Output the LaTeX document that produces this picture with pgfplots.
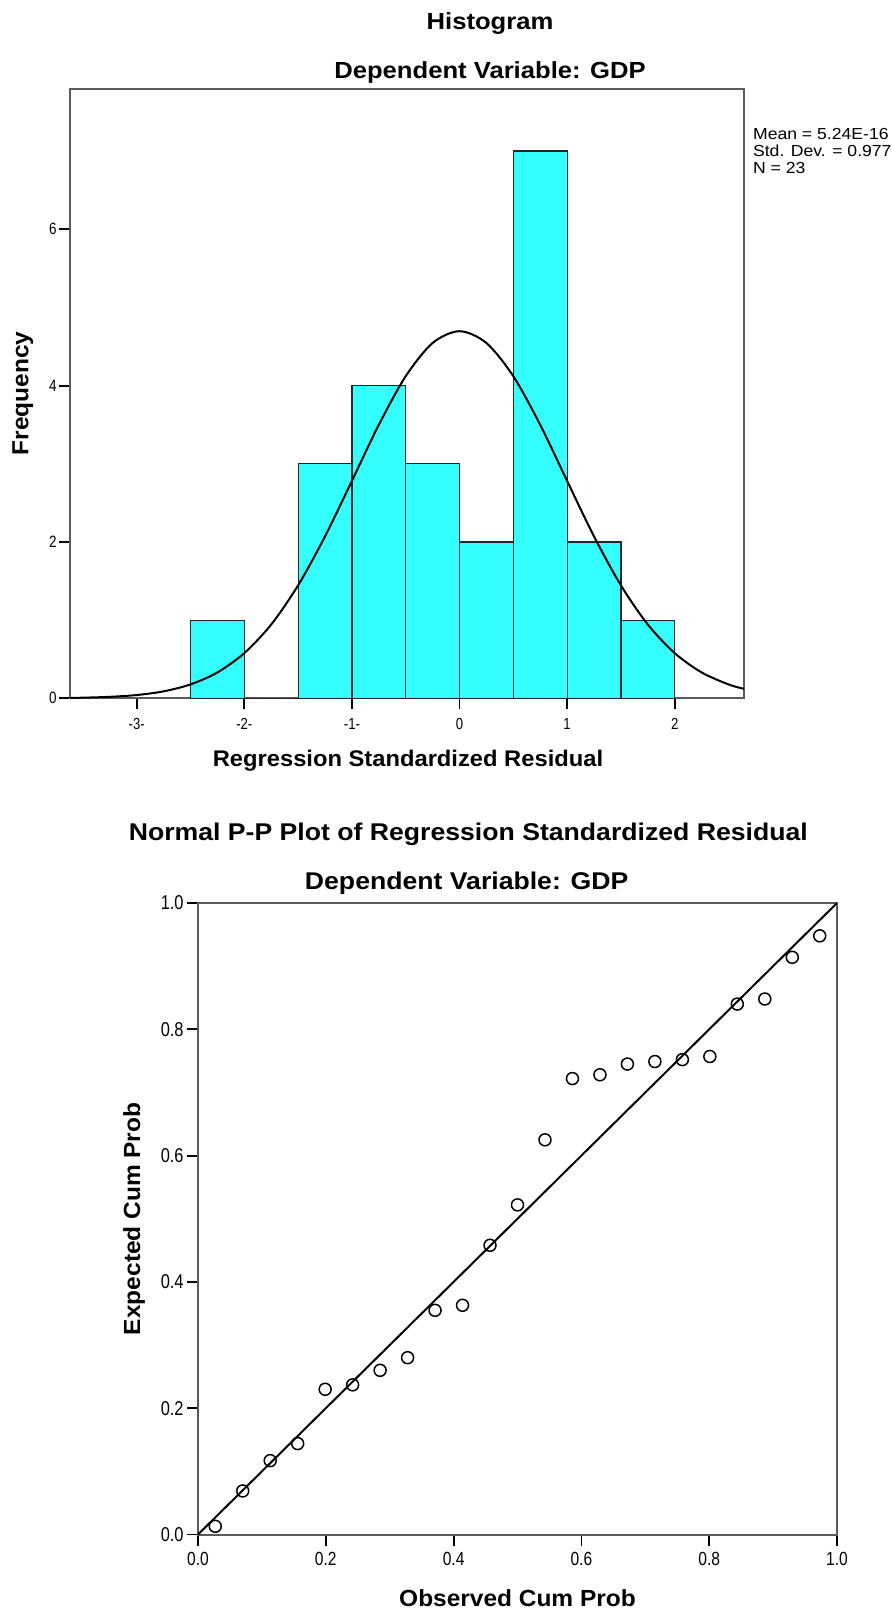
\documentclass[border=0pt]{standalone}
\usepackage{fontspec}
\setmainfont{Liberation Sans}
\newfontfamily\widefont[FakeStretch=1.1]{Liberation Sans}
\newfontfamily\labfont[FakeStretch=1.05]{Liberation Sans}
\newfontfamily\narrowfont[FakeStretch=0.82]{Liberation Sans}
\usepackage{pgfplots}
\pgfplotsset{compat=1.18}
\definecolor{barcyan}{RGB}{51,255,255}
\definecolor{axgray}{RGB}{90,90,90}
\begin{document}
\begin{tikzpicture}
\useasboundingbox (0,0) rectangle (445.5pt,-807pt);
% ---------------- Histogram ----------------
\begin{axis}[
  at={(35pt,-349.15pt)}, anchor=south west,
  scale only axis, width=337pt, height=304.5pt,
  xmin=-3.62, xmax=2.644, ymin=0, ymax=7.79,
  axis line style={axgray, line width=1pt},
  tick align=outside, major tick length=5.5pt,
  major tick style={black, line width=0.9pt},
  xtick pos=bottom, ytick pos=left,
  xtick={-3,-2,-1,0,1,2}, xticklabels={-3-,-2-,-1-,0,1,2},
  ytick={0,2,4,6}, yticklabels={0,2,4,6},
  xticklabel style={font=\narrowfont\fontsize{8pt}{9pt}\selectfont, inner sep=0pt, anchor=north, yshift=-4.5pt},
  yticklabel style={font=\narrowfont\fontsize{8.2pt}{9pt}\selectfont, inner sep=0pt, anchor=east, xshift=-1pt},
  clip=true,
]
\addplot[ybar interval, fill=barcyan, draw=black!85, line width=0.6pt]
  coordinates {(-2.5,1) (-2,0) (-1.5,3) (-1,4) (-0.5,3) (0,2) (0.5,7) (1,2) (1.5,1) (2,1)};
\addplot[smooth, black, line width=1pt, mark=none]
  coordinates {(-3.62,0.005) (-3.5,0.008) (-3.25,0.019) (-3.0,0.042) (-2.75,0.089) (-2.5,0.178) (-2.25,0.331) (-2.0,0.578) (-1.75,0.944) (-1.5,1.445) (-1.25,2.071) (-1.0,2.781) (-0.75,3.498) (-0.5,4.120) (-0.25,4.545) (0,4.696) (0.25,4.545) (0.5,4.120) (0.75,3.498) (1.0,2.781) (1.25,2.071) (1.5,1.445) (1.75,0.944) (2.0,0.578) (2.25,0.331) (2.5,0.178) (2.644,0.121)};
\end{axis}
\node[anchor=base, inner sep=0pt, font=\widefont\bfseries\fontsize{11.65pt}{13pt}\selectfont] at (245pt,-14.65pt) {Histogram};
\node[anchor=base, inner sep=0pt, font=\widefont\bfseries\fontsize{11.65pt}{13pt}\selectfont] at (245pt,-39.15pt) {Dependent Variable: GDP};
\node[anchor=base west, inner sep=0pt, font=\widefont\fontsize{8pt}{9pt}\selectfont] at (376.35pt,-69.6pt) {Mean = 5.24E-16};
\node[anchor=base west, inner sep=0pt, font=\widefont\fontsize{8pt}{9pt}\selectfont] at (376.35pt,-78.1pt) {Std. Dev. = 0.977};
\node[anchor=base west, inner sep=0pt, font=\widefont\fontsize{8pt}{9pt}\selectfont] at (376.35pt,-86.6pt) {N = 23};
\node[anchor=base, rotate=90, inner sep=0pt, font=\labfont\bfseries\fontsize{11.65pt}{13pt}\selectfont] at (14.15pt,-196.65pt) {Frequency};
\node[anchor=base, inner sep=0pt, font=\labfont\bfseries\fontsize{11.3pt}{13pt}\selectfont] at (204pt,-383.3pt) {Regression Standardized Residual};
% ---------------- P-P plot ----------------
\begin{axis}[
  at={(99pt,-767.25pt)}, anchor=south west,
  scale only axis, width=319.5pt, height=315.75pt,
  xmin=0, xmax=1, ymin=0, ymax=1,
  axis line style={axgray, line width=1pt},
  tick align=outside, major tick length=5.5pt,
  major tick style={black, line width=0.9pt},
  xtick pos=bottom, ytick pos=left,
  xtick={0,0.2,0.4,0.6,0.8,1}, xticklabels={0.0,0.2,0.4,0.6,0.8,1.0},
  ytick={0,0.2,0.4,0.6,0.8,1}, yticklabels={0.0,0.2,0.4,0.6,0.8,1.0},
  xticklabel style={font=\narrowfont\fontsize{9.5pt}{10pt}\selectfont, inner sep=0pt, anchor=north, yshift=-3pt},
  yticklabel style={font=\narrowfont\fontsize{10pt}{10pt}\selectfont, inner sep=0pt, anchor=east, xshift=-1.5pt},
  clip=false,
]
\addplot[black, line width=1pt, mark=none] coordinates {(0,0) (1,1)};
\addplot[only marks, mark=o, mark size=3pt, mark options={black, line width=0.75pt}]
  coordinates {(0.027,0.013) (0.070,0.069) (0.113,0.117) (0.156,0.144) (0.199,0.230) (0.242,0.237) (0.285,0.260) (0.328,0.280) (0.371,0.355) (0.414,0.363) (0.457,0.458) (0.500,0.522) (0.543,0.625) (0.586,0.722) (0.629,0.728) (0.672,0.745) (0.715,0.749) (0.758,0.752) (0.801,0.757) (0.844,0.840) (0.887,0.848) (0.930,0.914) (0.973,0.948)};
\end{axis}
\node[anchor=base, inner sep=0pt, font=\widefont\bfseries\fontsize{12.1pt}{14pt}\selectfont] at (234.15pt,-420pt) {Normal P-P Plot of Regression Standardized Residual};
\node[anchor=base, inner sep=0pt, font=\widefont\bfseries\fontsize{12.1pt}{14pt}\selectfont] at (233.35pt,-444.65pt) {Dependent Variable: GDP};
\node[anchor=base, rotate=90, inner sep=0pt, font=\labfont\bfseries\fontsize{11.65pt}{13pt}\selectfont] at (70pt,-609.4pt) {Expected Cum Prob};
\node[anchor=base, inner sep=0pt, font=\labfont\bfseries\fontsize{11.65pt}{13pt}\selectfont] at (258.75pt,-803.3pt) {Observed Cum Prob};
\end{tikzpicture}
\end{document}
